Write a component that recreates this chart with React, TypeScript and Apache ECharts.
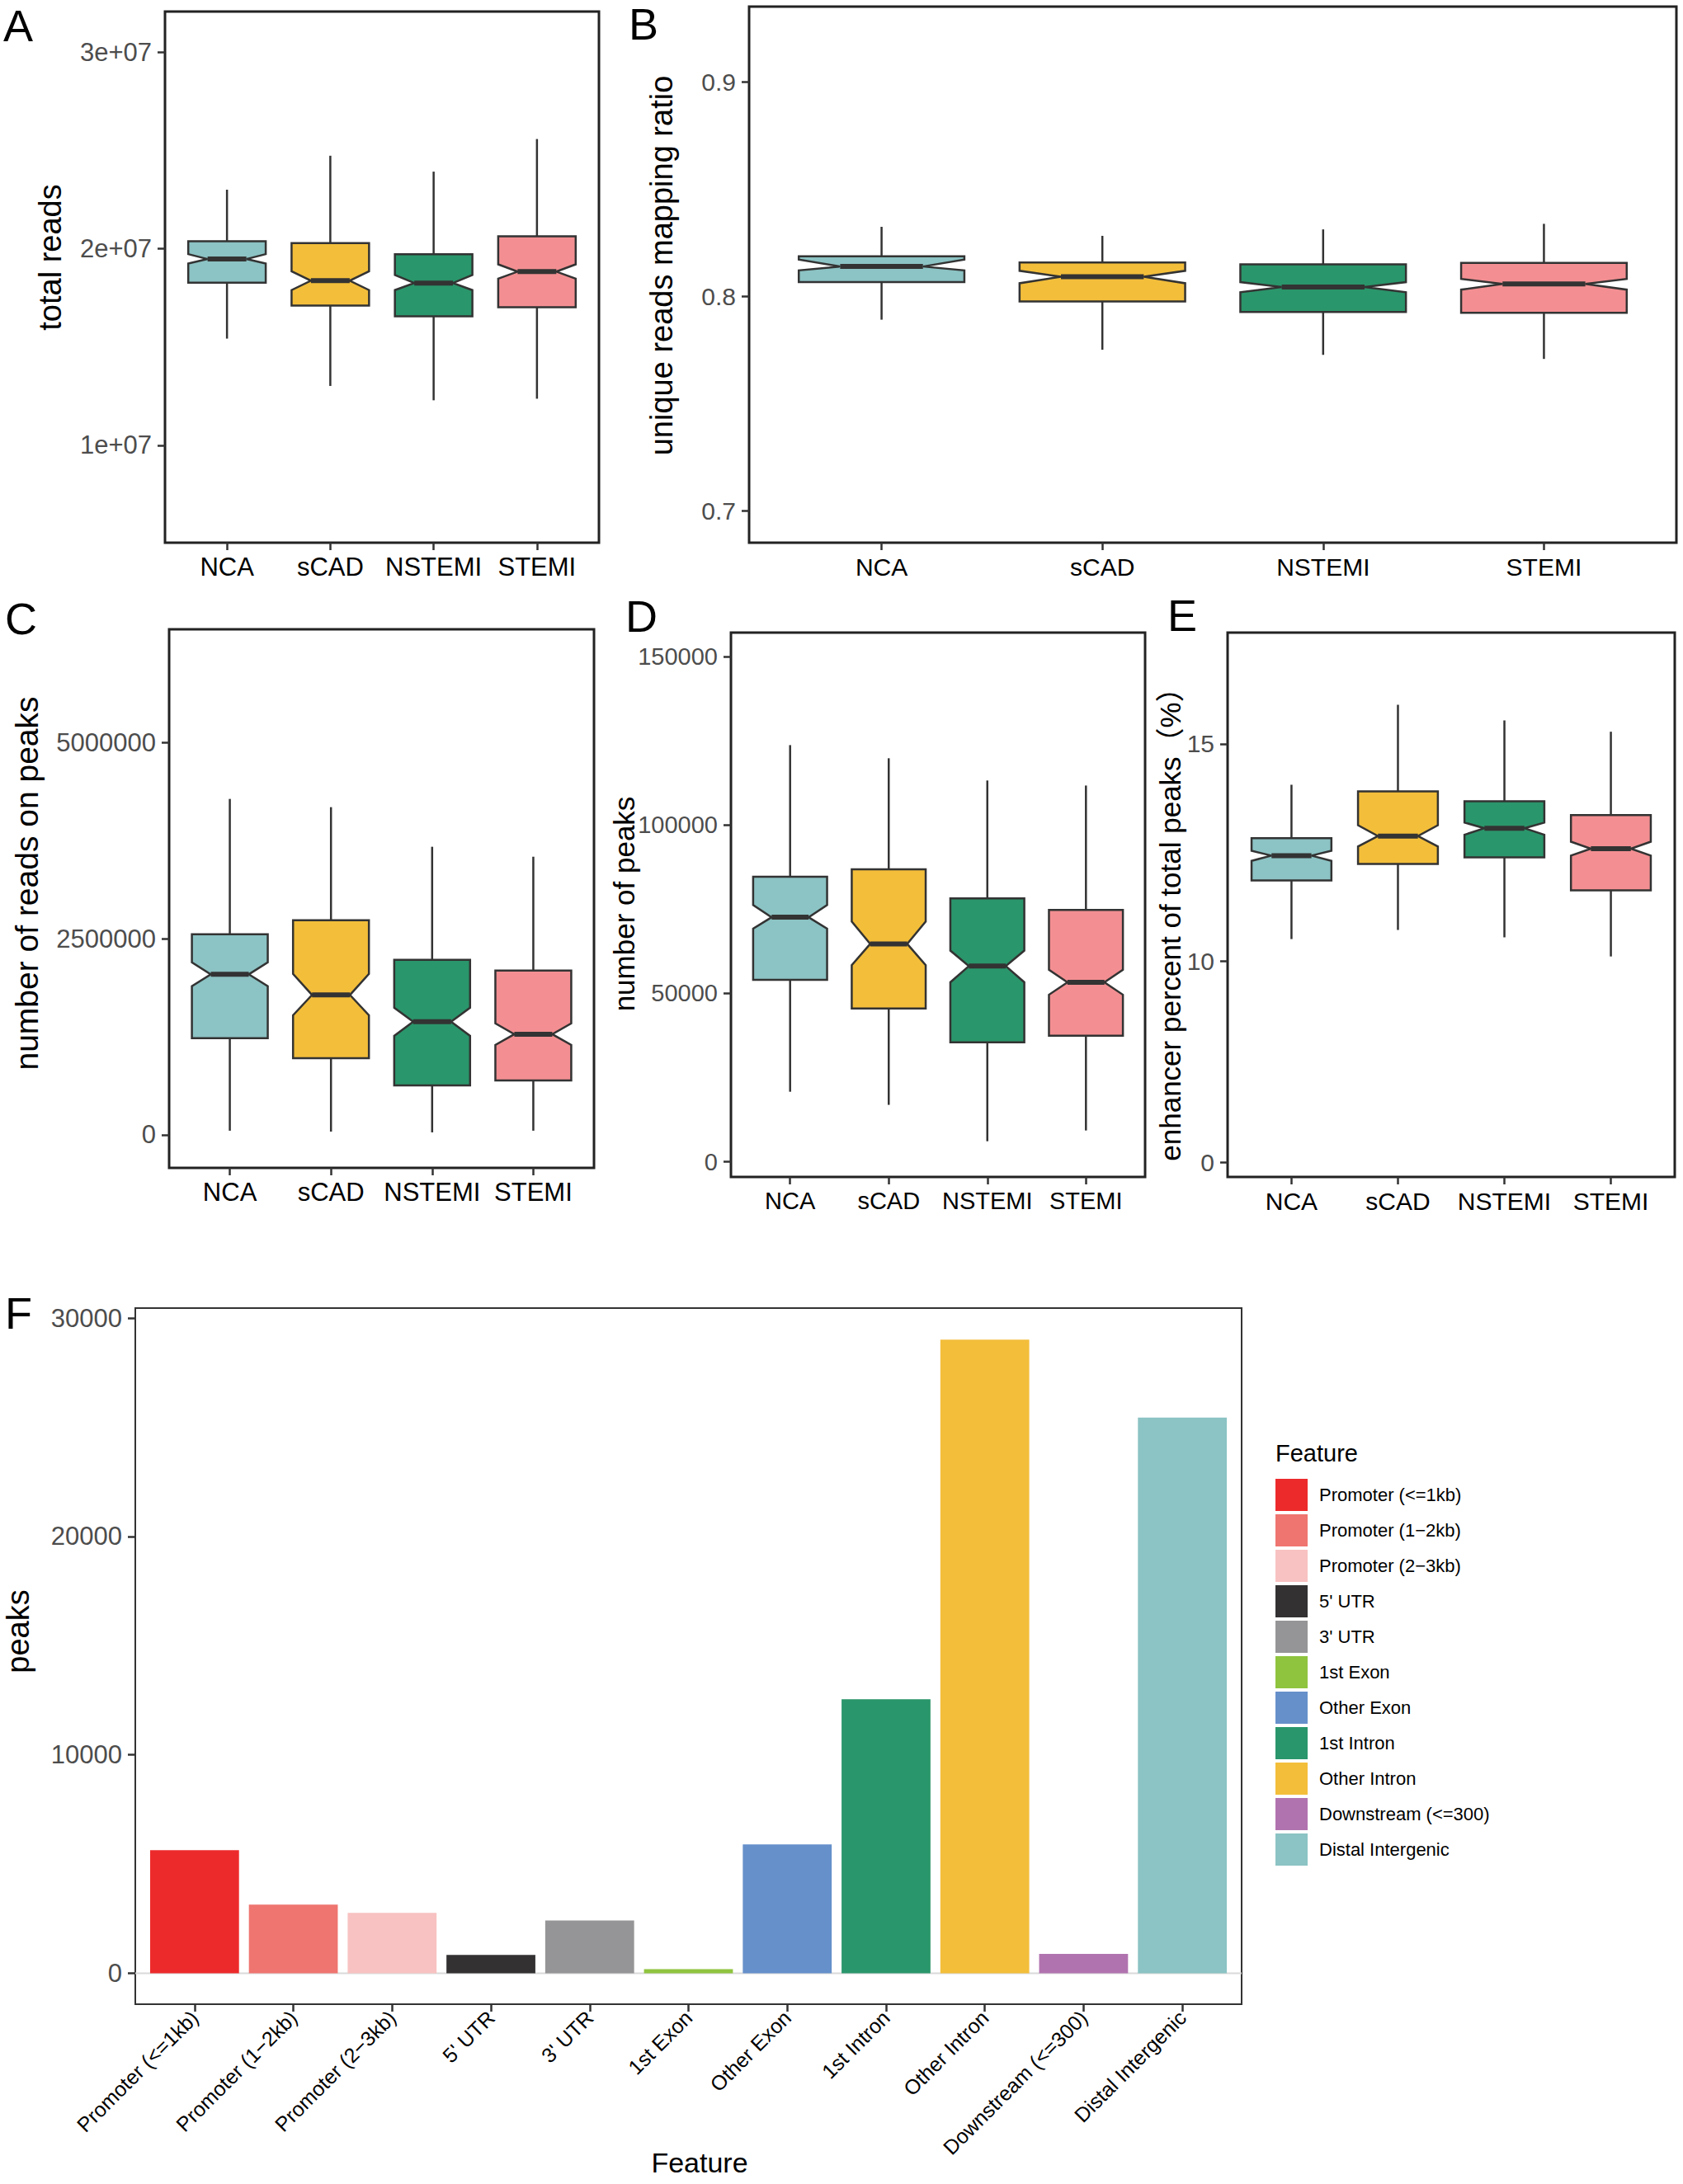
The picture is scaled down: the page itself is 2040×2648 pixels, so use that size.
import React, { useEffect, useRef } from "react";
import * as echarts from "echarts";

// ---------------- data ----------------
const groups = ["NCA", "sCAD", "NSTEMI", "STEMI"];
const groupColors = ["#8CC3C4", "#F3BE3A", "#2A966B", "#F38F92"];

// each row: [whisker low, Q1, notch low, median, notch high, Q3, whisker high]
const totalReads = [
  [15430000, 18280000, 19250000, 19480000, 19730000, 20390000, 23010000],
  [13020000, 17110000, 17900000, 18380000, 18860000, 20290000, 24740000],
  [12290000, 16570000, 17900000, 18260000, 18670000, 19730000, 23930000],
  [12370000, 17030000, 18480000, 18840000, 19210000, 20640000, 25590000],
];
const uniqueRatio = [
  [0.789, 0.8065, 0.812, 0.8138, 0.817, 0.8186, 0.8323],
  [0.775, 0.7975, 0.806, 0.809, 0.8118, 0.8157, 0.8281],
  [0.7726, 0.7926, 0.8018, 0.8042, 0.8065, 0.8148, 0.8311],
  [0.7707, 0.7922, 0.803, 0.8057, 0.808, 0.8155, 0.8337],
];
const readsOnPeaks = [
  [53000, 1232000, 1895000, 2047000, 2200000, 2558000, 4284000],
  [42000, 979000, 1526000, 1784000, 2053000, 2737000, 4179000],
  [32000, 632000, 1263000, 1442000, 1621000, 2232000, 3674000],
  [53000, 695000, 1147000, 1284000, 1421000, 2095000, 3547000],
];
const peakCounts = [
  [20800, 54000, 69200, 72600, 76200, 84600, 123700],
  [16900, 45500, 58400, 64700, 71300, 86800, 119800],
  [6100, 35500, 53300, 58100, 62700, 78200, 113200],
  [9300, 37400, 49600, 53300, 57000, 74800, 111700],
];
const enhancerPct = [
  [10.51, 11.86, 12.31, 12.43, 12.54, 12.83, 14.06],
  [10.72, 12.24, 12.64, 12.88, 13.13, 13.91, 15.9],
  [10.55, 12.39, 12.91, 13.06, 13.19, 13.68, 15.54],
  [10.11, 11.63, 12.43, 12.59, 12.75, 13.36, 15.28],
];

const totalReadsTicks = [10000000, 20000000, 30000000];
const uniqueRatioTicks = [0.7, 0.8, 0.9];
const readsOnPeaksTicks = [0, 2500000, 5000000];
const peakCountsTicks = [0, 50000, 100000, 150000];
const enhancerTicks = [0, 10, 15];

const features = [
  "Promoter (<=1kb)",
  "Promoter (1\u22122kb)",
  "Promoter (2\u22123kb)",
  "5' UTR",
  "3' UTR",
  "1st Exon",
  "Other Exon",
  "1st Intron",
  "Other Intron",
  "Downstream (<=300)",
  "Distal Intergenic",
];
const featureColors = [
  "#ED2A2B", "#EF7570", "#F8C2C2", "#333132", "#959597", "#8FC43F",
  "#6690CA", "#2A966B", "#F3BE3A", "#B173B0", "#8CC3C4",
];
const featurePeaks = [5630, 3137, 2761, 831, 2413, 188, 5898, 12547, 29008, 885, 25442];
const featureTicks = [0, 10000, 20000, 30000];

// ---------------- helpers ----------------
const FONT = '"Liberation Sans", Arial, "Noto Sans CJK SC", sans-serif';
const LOW_SCALE = 0.463; // compressed segment of panel E's axis below 10
const tE = (v: number) => (v <= 10 ? v * LOW_SCALE : 10 * LOW_SCALE + (v - 10));
const invE = (t: number) => (t <= 10 * LOW_SCALE + 1e-9 ? t / LOW_SCALE : 10 + (t - 10 * LOW_SCALE));

const HALF = 0.375;
const NOTCH = 0.1875;

function boxRender(params: any, api: any) {
  const x = api.value(0);
  const lo = api.value(1), q1 = api.value(2), nlo = api.value(3), med = api.value(4);
  const nhi = api.value(5), q3 = api.value(6), hi = api.value(7);
  const c = (dx: number, v: number) => api.coord([x + dx, v]);
  const color = groupColors[params.dataIndex];
  const stroke = "#333333";
  const pts = [
    c(-HALF, q3), c(-HALF, nhi), c(-NOTCH, med), c(-HALF, nlo), c(-HALF, q1),
    c(HALF, q1), c(HALF, nlo), c(NOTCH, med), c(HALF, nhi), c(HALF, q3),
  ];
  const top = c(0, hi), q3p = c(0, q3), q1p = c(0, q1), bot = c(0, lo);
  const m1 = c(-NOTCH, med), m2 = c(NOTCH, med);
  return {
    type: "group",
    children: [
      { type: "line", shape: { x1: top[0], y1: top[1], x2: q3p[0], y2: q3p[1] }, style: { stroke, lineWidth: 2.5 } },
      { type: "line", shape: { x1: q1p[0], y1: q1p[1], x2: bot[0], y2: bot[1] }, style: { stroke, lineWidth: 2.5 } },
      { type: "polygon", shape: { points: pts }, style: { fill: color, stroke, lineWidth: 2.5 } },
      { type: "line", shape: { x1: m1[0], y1: m1[1], x2: m2[0], y2: m2[1] }, style: { stroke, lineWidth: 6 } },
    ],
  };
}

function boxSeries(idx: number, stats: number[][], tf: (v: number) => number = (v) => v) {
  return {
    type: "custom",
    xAxisIndex: idx,
    yAxisIndex: idx,
    renderItem: boxRender,
    encode: { x: 0, y: [1, 2, 3, 4, 5, 6, 7] },
    data: stats.map((s, i) => [i + 1, ...s.map(tf)]),
    silent: true,
    clip: false,
  };
}

function catAxis(gridIndex: number, labels: string[], fontSize: number, extra: any = {}) {
  const vals = labels.map((_, i) => i + 1);
  return {
    type: "value",
    gridIndex,
    position: "bottom",
    min: 0.4,
    max: labels.length + 0.6,
    axisLine: { show: false, onZero: false },
    splitLine: { show: false },
    axisTick: { show: true, customValues: vals, length: 9, lineStyle: { color: "#333", width: 2.5 } },
    axisLabel: {
      customValues: vals,
      formatter: (v: number) => labels[Math.round(v) - 1] ?? "",
      fontSize,
      fontFamily: FONT,
      color: "#000",
      margin: 14,
      ...extra,
    },
  };
}

function valAxis(gridIndex: number, min: number, max: number, ticks: number[], fontSize: number, fmt: (v: number) => string) {
  return {
    type: "value",
    gridIndex,
    position: "left",
    min,
    max,
    axisLine: { show: false, onZero: false },
    splitLine: { show: false },
    axisTick: { show: true, customValues: ticks, length: 9, lineStyle: { color: "#333", width: 2.5 } },
    axisLabel: {
      customValues: ticks,
      formatter: fmt,
      fontSize,
      fontFamily: FONT,
      color: "#4D4D4D",
      margin: 16,
    },
  };
}

const frame = { show: true, borderColor: "#222", borderWidth: 3, backgroundColor: "transparent" };

function txt(text: string, x: number, y: number, size: number, rotate = false, align = "center") {
  return {
    type: "text",
    x,
    y,
    rotation: rotate ? Math.PI / 2 : 0,
    style: { text, fontSize: size, fontFamily: FONT, fill: "#000", align, verticalAlign: "middle" },
  };
}

export default function App() {
  const ref = useRef<HTMLDivElement>(null);
  useEffect(() => {
    if (!ref.current) return;
    const chart = echarts.init(ref.current, null, { renderer: "svg" });
    const option: any = {
      animation: false,
      backgroundColor: "#fff",
      grid: [
        { left: 200, top: 14, width: 526, height: 644, ...frame },
        { left: 908, top: 8, width: 1124, height: 650, ...frame },
        { left: 205, top: 763, width: 515, height: 653, ...frame },
        { left: 886, top: 767, width: 502, height: 660, ...frame },
        { left: 1488, top: 767, width: 542, height: 660, ...frame },
        { left: 164, top: 1586, width: 1341, height: 844, show: true, borderColor: "#333", borderWidth: 2, backgroundColor: "transparent" },
      ],
      xAxis: [
        catAxis(0, groups, 31),
        catAxis(1, groups, 30),
        catAxis(2, groups, 31),
        catAxis(3, groups, 29),
        catAxis(4, groups, 30),
        catAxis(5, features, 25, { rotate: 45, margin: 12 }),
      ],
      yAxis: [
        valAxis(0, 5040000, 32080000, totalReadsTicks, 31, (v) => `${Math.round(v / 1e7)}e+07`),
        valAxis(1, 0.685, 0.935, uniqueRatioTicks, 30, (v) => v.toFixed(1)),
        valAxis(2, -421000, 6447000, readsOnPeaksTicks, 31, (v) => String(Math.round(v))),
        valAxis(3, -4500, 157100, peakCountsTicks, 29, (v) => String(Math.round(v))),
        valAxis(4, -0.332, 12.19, enhancerTicks.map(tE), 30, (v) => String(Math.round(invE(v)))),
        valAxis(5, -1421, 30456, featureTicks, 31, (v) => String(Math.round(v))),
      ],
      legend: {
        data: features.map((f, i) => ({ name: f, icon: "rect", itemStyle: { color: featureColors[i] } })),
        orient: "vertical",
        left: 1546,
        top: 1793,
        padding: 0,
        itemWidth: 39,
        itemHeight: 39,
        itemGap: 4,
        selectedMode: false,
        textStyle: { fontSize: 22, fontFamily: FONT, color: "#000", padding: [0, 0, 0, 9] },
      },
      series: [
        boxSeries(0, totalReads),
        boxSeries(1, uniqueRatio),
        boxSeries(2, readsOnPeaks),
        boxSeries(3, peakCounts),
        boxSeries(4, enhancerPct, tE),
        {
          type: "line",
          name: "baseline",
          xAxisIndex: 5,
          yAxisIndex: 5,
          data: [[0.4, 0], [features.length + 0.6, 0]],
          symbol: "none",
          silent: true,
          lineStyle: { color: "#D9D9D9", width: 2 },
          z: 1,
        },
        ...features.map((f, i) => ({
          type: "custom",
          name: f,
          xAxisIndex: 5,
          yAxisIndex: 5,
          itemStyle: { color: featureColors[i] },
          encode: { x: 0, y: 1 },
          data: [[i + 1, featurePeaks[i]]],
          z: 2,
          silent: true,
          renderItem: (params: any, api: any) => {
            const x = api.value(0);
            const y = api.value(1);
            const a = api.coord([x - 0.45, y]);
            const b = api.coord([x + 0.45, 0]);
            return {
              type: "rect",
              shape: { x: a[0], y: a[1], width: b[0] - a[0], height: b[1] - a[1] },
              style: { fill: featureColors[i] },
            };
          },
        })),
      ],
      graphic: [
        txt("A", 4, 31, 54, false, "left"),
        txt("B", 762, 29, 54, false, "left"),
        txt("C", 6, 750, 54, false, "left"),
        txt("D", 758, 747, 54, false, "left"),
        txt("E", 1415, 746, 54, false, "left"),
        txt("F", 6, 1592, 54, false, "left"),
        txt("total reads", 61, 312, 38, true),
        txt("unique reads mapping ratio", 802, 322, 38, true),
        txt("number of reads on peaks", 32, 1071, 39, true),
        txt("number of peaks", 756, 1096, 35, true),
        txt("enhancer percent of total peaks\uFF08%\uFF09", 1418, 1112, 35, true),
        txt("peaks", 22, 1978, 38, true),
        txt("Feature", 848, 2622, 34),
        txt("Feature", 1546, 1762, 29, false, "left"),
      ],
    };
    chart.setOption(option);
    return () => chart.dispose();
  }, []);
  return (
    <div
      ref={ref}
      style={{ position: "absolute", left: 0, top: 0, width: 2040, height: 2648, background: "#fff" }}
    />
  );
}
